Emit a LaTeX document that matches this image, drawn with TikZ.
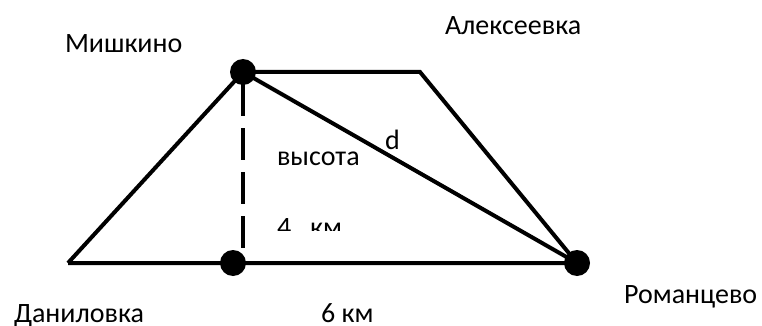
\documentclass[tikz,border=0pt]{standalone}
\usepackage{fontspec}
\setmainfont{Carlito}
\usetikzlibrary{positioning}

\begin{document}
\begin{tikzpicture}[x=1pt,y=-1pt,line width=4pt,
  dot/.style={circle,fill=black,inner sep=0pt,minimum size=26pt},
  lbl/.style={anchor=base west,inner sep=0pt,font=\fontsize{28}{33}\selectfont}]
  \useasboundingbox (0,0) rectangle (762,326);
  \coordinate (dan) at (68,263);
  \coordinate (alek) at (420,72);
  \coordinate (foot) at (243,263);
  \node[dot] (mish) at (243,72) {};
  \node[dot] (base) at (233,263) {};
  \node[dot] (rom) at (577,263) {};
  \draw (dan) -- (mish.center) -- (alek) -- (rom.center) -- (dan);
  \draw (mish.center) -- (rom.center);
  \draw[dash pattern=on 32pt off 12pt,dash phase=32pt] (mish.center) -- (foot);
  \node[lbl] (lmish) at (63,53) {Мишкино};
  \node[lbl] (lalek) at (443,35) {Алексеевка};
  \node[lbl] (ldan) at (12,322) {Даниловка};
  \node[lbl] (lrom) at (622,303) {Романцево};
  \node[lbl] (lsix) at (319,322) {6 км};
  \node[lbl] (lh) at (275,165) {высота};
  \node[lbl] (ld) at (383,149) {d};
  \begin{scope}
    \clip (260,200) rectangle (360,230);
    \node[lbl] (lfour) at (275,236) {4\ \ \ км};
  \end{scope}
\end{tikzpicture}
\end{document}
